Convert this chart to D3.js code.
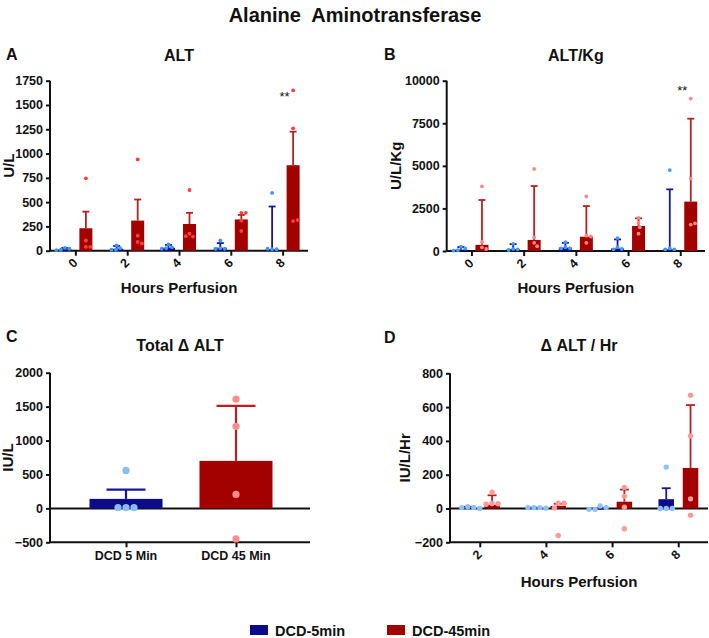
<!DOCTYPE html>
<html><head><meta charset="utf-8">
<script src="https://cdn.jsdelivr.net/npm/d3@7"></script>
<style>
body{margin:0;background:#fff;}
svg text{font-family:"Liberation Sans",Arial,Helvetica,sans-serif;font-weight:bold;fill:#111;}
</style></head><body>
<svg id="chart" width="709" height="638"></svg>
<script>
// ---------- DATA ----------
const hours = ["0","2","4","6","8"];
const hoursD = ["2","4","6","8"];
const groupsC = ["DCD 5 Min","DCD 45 Min"];
const seriesNames = ["DCD-5min","DCD-45min"];

// Panel A: ALT (U/L)
const altTicks = [0,250,500,750,1000,1250,1500,1750];
const altMean5 = [15, 20, 30, 30, 15];
const altErr5 = [28, 48, 60, 78, 455];
const altPts5 = [[30,20,10,5],[55,25,10,10],[65,35,25,20],[105,25,20,20],[595,15,15,20]];
const altMean45 = [231, 310, 275, 322, 880];
const altErr45 = [402, 527, 390, 368, 1225];
const altPts45 = [[745,105,40,40],[940,155,90,75],[625,175,145,150],[390,390,309,203],[1650,1260,305,315]];

// Panel B: ALT/Kg (U/L/Kg)
const kgTicks = [0,2500,5000,7500,10000];
const kgMean5 = [80, 120, 200, 150, 100];
const kgErr5 = [230, 400, 480, 680, 3620];
const kgPts5 = [[250,150,50,20],[420,120,100,60],[520,220,160,150],[760,220,120,100],[4750,160,100,100]];
const kgMean45 = [360, 650, 840, 1470, 2900];
const kgErr45 = [2995, 3815, 2640, 1920, 7770];
const kgPts45 = [[3800,530,215,117],[4820,800,480,280],[3200,900,850,480],[1950,1650,1400,1020],[8950,4250,1550,1620]];

// Panel C: Total delta ALT (IU/L)
const totTicks = [-500,0,500,1000,1500,2000];
const totMean = [140, 700];
const totErr = [275, 1510];
const totPts = [[560,10,10,10],[1610,1210,205,-450]];

// Panel D: delta ALT / Hr (IU/L/Hr)
const hrTicks = [-200,0,200,400,600,800];
const hrMean5 = [5, 3, -6, 55];
const hrErr5 = [10, 5, 2, 120];
const hrPts5 = [[10,5,5,0],[5,5,5,2],[15,5,-5,-5],[245,0,0,0]];
const hrMean45 = [22, 15, 40, 240];
const hrErr45 = [78, 28, 112, 612];
const hrPts45 = [[96,30,28,25],[31,31,3,-160],[125,72,8,-120],[670,430,57,-40]];

// ---------- STYLE ----------
const BLUE = "#0b0b8c", RED = "#a30000";
const BLUE_ERR = "#16169c", RED_ERR = "#b82020";

const svg = d3.select("#chart");

svg.append("text").attr("x",355).attr("y",22).attr("text-anchor","middle")
  .style("font-size","20px").style("white-space","pre").text("Alanine  Aminotransferase");

function swarm(vals, y, r){
  const placed = [];
  vals.forEach(v=>{
    const py = y(v);
    let x = 0;
    for(let k=0;k<400;k++){
      const cand = (k===0?0:(k%2?1:-1)*Math.ceil(k/2)*0.25);
      let ok = true;
      for(const p of placed){
        const dx = cand-p.x, dy = py-p.y;
        if(dx*dx+dy*dy < (2*r+0.6)*(2*r+0.6)){ok=false;break;}
      }
      if(ok){x=cand;break;}
    }
    placed.push({x:x,y:py,v:v});
  });
  return placed;
}

function panel(cfg){
  const g = svg.append("g");
  const x = d3.scalePoint().domain(cfg.cats).range(cfg.xRange).padding(cfg.xPad);
  const y = d3.scaleLinear().domain(cfg.yDomain).range(cfg.yRange);
  const [L,R] = cfg.axisX;
  const yTop = cfg.yRange[1], yBot = cfg.yRange[0];

  g.append("text").attr("x",cfg.letterX).attr("y",cfg.letterY).style("font-size","16px").text(cfg.letter);
  g.append("text").attr("x",(L+R)/2).attr("y",cfg.titleY).attr("text-anchor","middle")
    .style("font-size","16px").text(cfg.title);

  const ya = g.append("g").attr("transform",`translate(${L},0)`)
    .call(d3.axisLeft(y).tickValues(cfg.ticks).tickSize(4).tickPadding(3).tickFormat(d3.format("d")));
  ya.select(".domain").attr("stroke","#111").attr("stroke-width",2).attr("d",`M0,${yTop}V${yBot}`);
  ya.selectAll(".tick line").attr("stroke","#111").attr("stroke-width",2);
  ya.selectAll(".tick text").style("font-size","12.5px").attr("fill","#111");

  g.append("text").attr("transform",`translate(${cfg.yLabelX},${(yTop+yBot)/2}) rotate(-90)`)
    .attr("text-anchor","middle").style("font-size","15px").text(cfg.yLabel);

  const xa = g.append("g").attr("transform",`translate(0,${yBot})`)
    .call(d3.axisBottom(x).tickSize(5).tickFormat(""));
  xa.select(".domain").attr("stroke","#111").attr("stroke-width",2).attr("d",`M${L},0H${R}`);
  xa.selectAll(".tick line").attr("stroke","#111").attr("stroke-width",2);
  if(cfg.rotLabels){
    cfg.cats.forEach(c=>{
      g.append("text").attr("transform",`translate(${x(c)+3},${yBot+13}) rotate(-45)`)
        .attr("text-anchor","end").style("font-size","12.5px").text(c);
    });
  } else {
    cfg.cats.forEach(c=>{
      g.append("text").attr("x",x(c)).attr("y",yBot+18).attr("text-anchor","middle")
        .style("font-size","12.5px").text(c);
    });
  }
  if(cfg.xLabel){
    g.append("text").attr("x",(L+R)/2).attr("y",cfg.xLabelY).attr("text-anchor","middle")
      .style("font-size","15px").text(cfg.xLabel);
  }
  if(cfg.yDomain[0] < 0){
    g.append("line").attr("x1",L).attr("x2",R).attr("y1",y(0)).attr("y2",y(0))
      .attr("stroke","#111").attr("stroke-width",2);
  }

  const bw = cfg.barW;
  cfg.series.forEach(s=>{
    s.cats.forEach((c,i)=>{
      const cx = x(c) + s.offset;
      const m = s.means[i];
      g.append("rect").attr("x",cx-bw/2).attr("width",bw)
        .attr("y",Math.min(y(m),y(0))).attr("height",Math.abs(y(m)-y(0)))
        .attr("fill",s.color);
    });
  });
  cfg.series.forEach(s=>{
    s.cats.forEach((c,i)=>{
      const cx = x(c) + s.offset;
      const m = s.means[i], e = s.errs[i];
      g.append("line").attr("x1",cx).attr("x2",cx).attr("y1",y(m)).attr("y2",y(e))
        .attr("stroke",s.errColor).attr("stroke-width",cfg.errW);
      g.append("line").attr("x1",cx-cfg.capW/2).attr("x2",cx+cfg.capW/2).attr("y1",y(e)).attr("y2",y(e))
        .attr("stroke",s.errColor).attr("stroke-width",cfg.errW);
    });
  });
  cfg.series.forEach(s=>{
    s.cats.forEach((c,i)=>{
      const cx = x(c) + s.offset;
      swarm(s.pts[i], y, cfg.dotR).forEach(p=>{
        g.append("circle").attr("cx",cx+p.x).attr("cy",p.y).attr("r",cfg.dotR).attr("fill",s.dotColor);
      });
    });
  });
  if(cfg.star){
    g.append("text").attr("x",x(cfg.star.cat)+2).attr("y",y(cfg.star.v)).attr("text-anchor","middle")
      .style("font-size","13px").style("font-weight","normal").attr("fill","#222").text("**");
  }
  return {x,y};
}

panel({letter:"A", letterX:6, letterY:60, title:"ALT", titleY:61,
  cats:hours, xRange:[50,308], xPad:0.49, axisX:[50,308],
  yDomain:[0,1750], yRange:[250.7,80.7], ticks:altTicks,
  yLabel:"U/L", yLabelX:14, xLabel:"Hours Perfusion", xLabelY:293, rotLabels:true,
  barW:13, capW:7, errW:1.8, dotR:1.9, star:{cat:"8",v:1540},
  series:[
    {cats:hours, offset:-10.5, means:altMean5, errs:altErr5, pts:altPts5, color:BLUE, errColor:BLUE_ERR, dotColor:"#3a97ff"},
    {cats:hours, offset:10.5, means:altMean45, errs:altErr45, pts:altPts45, color:RED, errColor:RED_ERR, dotColor:"#ff3d3d"}
  ]});

panel({letter:"B", letterX:384, letterY:60, title:"ALT/Kg", titleY:61,
  cats:hours, xRange:[446.7,705], xPad:0.474, axisX:[446.7,705],
  yDomain:[0,10000], yRange:[251,80.7], ticks:kgTicks,
  yLabel:"U/L/Kg", yLabelX:401, xLabel:"Hours Perfusion", xLabelY:293, rotLabels:true,
  barW:13, capW:7, errW:1.8, dotR:1.9, star:{cat:"8",v:9150},
  series:[
    {cats:hours, offset:-10.5, means:kgMean5, errs:kgErr5, pts:kgPts5, color:BLUE, errColor:BLUE_ERR, dotColor:"#3f9bff"},
    {cats:hours, offset:10.5, means:kgMean45, errs:kgErr45, pts:kgPts45, color:RED, errColor:RED_ERR, dotColor:"#ff8585"}
  ]});

panel({letter:"C", letterX:6, letterY:342, title:"Total \u0394 ALT", titleY:351,
  cats:groupsC, xRange:[50,312], xPad:0.691, axisX:[50,310],
  yDomain:[-500,2000], yRange:[542.3,372.7], ticks:totTicks,
  yLabel:"IU/L", yLabelX:13, xLabel:null, rotLabels:false,
  barW:73, capW:39, errW:2.2, dotR:3.6,
  series:[
    {cats:[groupsC[0]], offset:0, means:[totMean[0]], errs:[totErr[0]], pts:[totPts[0]], color:BLUE, errColor:BLUE_ERR, dotColor:"#8bbdf3"},
    {cats:[groupsC[1]], offset:0, means:[totMean[1]], errs:[totErr[1]], pts:[totPts[1]], color:RED, errColor:RED_ERR, dotColor:"#ff8c8c"}
  ]});

panel({letter:"D", letterX:384, letterY:343, title:"\u0394 ALT / Hr", titleY:351,
  cats:hoursD, xRange:[450,708], xPad:0.45, axisX:[450,708],
  yDomain:[-200,800], yRange:[542.3,373.3], ticks:hrTicks,
  yLabel:"IU/L/Hr", yLabelX:410, xLabel:"Hours Perfusion", xLabelY:587, rotLabels:true,
  barW:15.5, capW:9, errW:1.8, dotR:2.7,
  series:[
    {cats:hoursD, offset:-12, means:hrMean5, errs:hrErr5, pts:hrPts5, color:BLUE, errColor:BLUE_ERR, dotColor:"#8fc1f7"},
    {cats:hoursD, offset:12.3, means:hrMean45, errs:hrErr45, pts:hrPts45, color:RED, errColor:RED_ERR, dotColor:"#ff9a9a"}
  ]});

const lg = svg.append("g");
const legendX = [250, 387];
seriesNames.forEach((n,i)=>{
  lg.append("rect").attr("x",legendX[i]).attr("y",625).attr("width",18).attr("height",10)
    .attr("fill",i===0?BLUE:RED);
  lg.append("text").attr("x",legendX[i]+25).attr("y",635.5).style("font-size","14.5px").text(n);
});
</script>
</body></html>
